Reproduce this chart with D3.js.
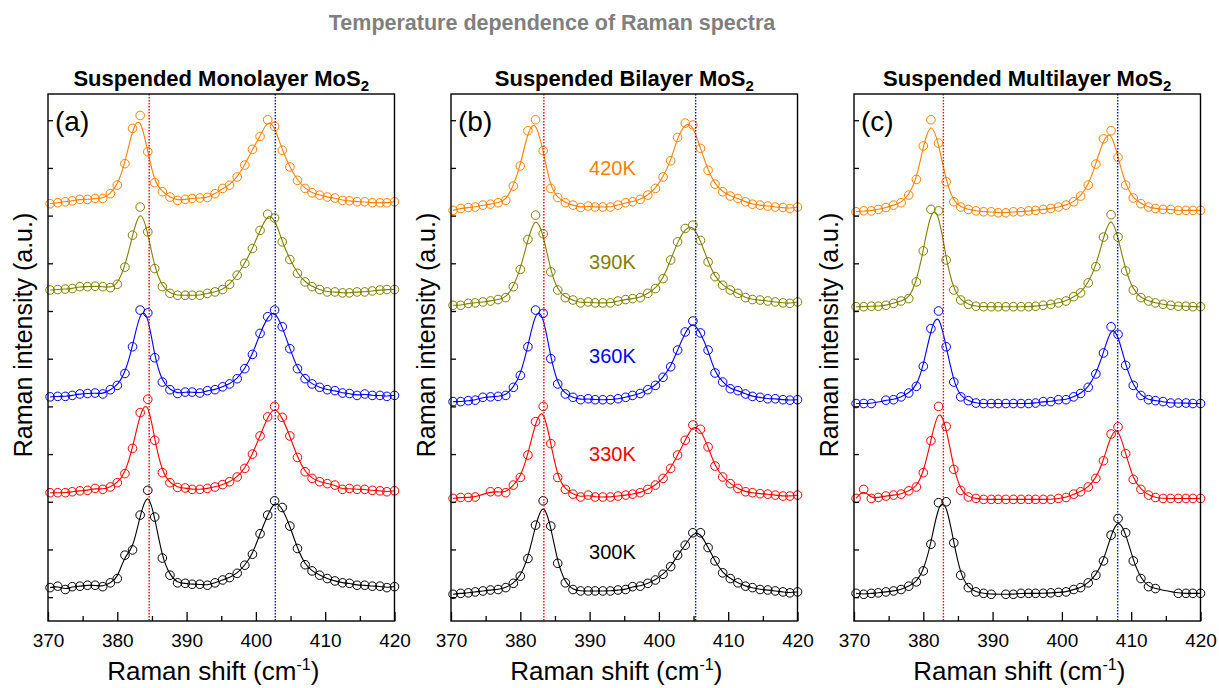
<!DOCTYPE html>
<html><head><meta charset="utf-8">
<script src="https://cdn.jsdelivr.net/npm/d3@7"></script>
<style>
body{margin:0;background:#fff}
svg{display:block}
text{font-family:"Liberation Sans",Arial,Helvetica,sans-serif}
</style>
</head><body>
<svg id="chart" width="1219" height="688"></svg>
<script>
// ---------- data ----------
const ramanShift = [370.3, 371.4, 372.5, 373.5, 374.6, 375.7, 376.8, 377.9, 379.0, 380.0, 381.1, 382.2, 383.3, 384.4, 385.4, 386.5, 387.6, 388.7, 389.8, 390.8, 391.9, 393.0, 394.1, 395.2, 396.2, 397.3, 398.4, 399.5, 400.6, 401.7, 402.7, 403.8, 404.9, 406.0, 407.1, 408.1, 409.2, 410.3, 411.4, 412.5, 413.5, 414.6, 415.7, 416.8, 417.9, 418.9, 420.0];

const temperatures = ["420K", "390K", "360K", "330K", "300K"];
const tempColors = ["#ff8000", "#808000", "#0000ff", "#ff0000", "#000000"];

// (a) monolayer (offset intensities, a.u.)
const mono420 = [8.25, 8.27, 8.29, 8.31, 8.34, 8.34, 8.36, 8.36, 8.46, 8.64, 9.09, 9.83, 10.10, 9.34, 8.69, 8.50, 8.39, 8.32, 8.34, 8.36, 8.37, 8.38, 8.46, 8.57, 8.64, 8.81, 9.06, 9.39, 9.66, 10.01, 9.87, 9.37, 9.02, 8.74, 8.57, 8.48, 8.43, 8.39, 8.37, 8.32, 8.31, 8.29, 8.29, 8.27, 8.27, 8.27, 8.29];
const mono390 = [6.44, 6.45, 6.46, 6.47, 6.51, 6.51, 6.52, 6.51, 6.49, 6.56, 6.92, 7.59, 8.18, 7.66, 6.89, 6.51, 6.37, 6.33, 6.33, 6.33, 6.33, 6.37, 6.40, 6.45, 6.56, 6.75, 7.00, 7.31, 7.69, 8.03, 7.95, 7.45, 7.08, 6.79, 6.61, 6.51, 6.45, 6.40, 6.40, 6.38, 6.38, 6.40, 6.40, 6.42, 6.44, 6.45, 6.45];
const mono360 = [4.20, 4.21, 4.21, 4.23, 4.26, 4.27, 4.28, 4.26, 4.35, 4.44, 4.69, 5.25, 6.02, 5.96, 5.02, 4.51, 4.35, 4.27, 4.30, 4.30, 4.28, 4.33, 4.35, 4.41, 4.47, 4.58, 4.79, 5.09, 5.53, 5.88, 6.02, 5.67, 5.21, 4.79, 4.58, 4.47, 4.40, 4.35, 4.33, 4.28, 4.27, 4.23, 4.26, 4.23, 4.23, 4.21, 4.23];
const mono330 = [2.19, 2.19, 2.19, 2.21, 2.23, 2.24, 2.28, 2.26, 2.31, 2.40, 2.59, 3.12, 3.87, 4.15, 3.29, 2.61, 2.40, 2.30, 2.29, 2.26, 2.26, 2.28, 2.31, 2.36, 2.42, 2.52, 2.70, 3.00, 3.38, 3.78, 4.00, 3.77, 3.38, 2.93, 2.63, 2.49, 2.42, 2.38, 2.35, 2.26, 2.28, 2.26, 2.26, 2.24, 2.23, 2.21, 2.23];
const mono300 = [0.20, 0.23, 0.16, 0.22, 0.23, 0.25, 0.25, 0.22, 0.30, 0.39, 0.88, 0.99, 1.72, 2.24, 1.68, 0.82, 0.46, 0.30, 0.29, 0.27, 0.27, 0.25, 0.30, 0.36, 0.41, 0.50, 0.67, 0.90, 1.33, 1.72, 2.02, 1.88, 1.49, 1.02, 0.68, 0.55, 0.46, 0.39, 0.34, 0.30, 0.29, 0.25, 0.25, 0.23, 0.23, 0.20, 0.22];

// (b) bilayer
const bi420 = [8.11, 8.15, 8.17, 8.18, 8.22, 8.24, 8.27, 8.32, 8.62, 9.04, 9.78, 10.01, 9.36, 8.57, 8.38, 8.27, 8.22, 8.17, 8.20, 8.18, 8.18, 8.18, 8.22, 8.27, 8.29, 8.34, 8.43, 8.57, 8.81, 9.15, 9.64, 9.94, 9.90, 9.41, 8.95, 8.66, 8.50, 8.41, 8.36, 8.29, 8.24, 8.22, 8.20, 8.18, 8.17, 8.15, 8.18];
const bi390 = [6.12, 6.12, 6.16, 6.17, 6.19, 6.21, 6.24, 6.28, 6.51, 6.87, 7.50, 8.01, 7.62, 6.82, 6.44, 6.28, 6.23, 6.17, 6.19, 6.17, 6.17, 6.17, 6.21, 6.24, 6.26, 6.28, 6.37, 6.47, 6.68, 7.07, 7.45, 7.73, 7.80, 7.48, 7.03, 6.72, 6.54, 6.44, 6.37, 6.28, 6.24, 6.23, 6.21, 6.19, 6.17, 6.16, 6.19];
const bi360 = [4.10, 4.10, 4.12, 4.13, 4.19, 4.20, 4.21, 4.23, 4.40, 4.65, 5.25, 6.02, 5.95, 5.00, 4.47, 4.26, 4.19, 4.14, 4.16, 4.14, 4.14, 4.14, 4.16, 4.19, 4.23, 4.27, 4.35, 4.44, 4.61, 4.83, 5.18, 5.56, 5.79, 5.54, 5.18, 4.70, 4.51, 4.37, 4.33, 4.26, 4.21, 4.19, 4.16, 4.16, 4.14, 4.13, 4.14];
const bi330 = [2.07, 2.09, 2.09, 2.10, null, 2.21, 2.21, 2.19, 2.35, 2.51, 2.98, 3.68, 4.00, 3.22, 2.51, 2.26, 2.16, 2.10, 2.14, 2.10, 2.10, 2.10, 2.12, 2.14, 2.16, 2.19, 2.26, 2.35, 2.49, 2.70, 2.98, 3.29, 3.61, 3.52, 3.15, 2.75, 2.52, 2.38, 2.28, 2.21, 2.19, 2.17, 2.16, 2.14, 2.12, 2.12, 2.14];
const bi300 = [0.06, 0.08, 0.09, 0.11, 0.13, 0.15, 0.16, 0.20, 0.29, 0.44, 0.81, 1.51, 2.02, 1.49, 0.71, 0.30, 0.16, 0.13, 0.13, 0.13, 0.13, 0.13, 0.15, 0.16, 0.22, 0.23, 0.29, 0.36, 0.48, 0.64, 0.88, 1.09, 1.35, 1.35, 1.04, 0.76, 0.51, 0.39, 0.30, 0.23, 0.20, 0.16, 0.15, 0.13, 0.11, 0.09, 0.11];

// (c) multilayer
const multi420 = [8.08, 8.10, 8.10, 8.13, 8.17, 8.22, 8.27, 8.43, 8.76, 9.46, 10.01, 9.52, 8.71, 8.29, 8.18, 8.13, 8.10, 8.08, 8.08, 8.06, 8.06, 8.08, 8.08, 8.10, 8.11, 8.13, 8.15, 8.18, 8.22, 8.29, 8.41, 8.64, 9.08, 9.61, 9.78, 9.22, 8.64, 8.37, 8.25, 8.18, 8.15, 8.13, 8.13, 8.11, 8.11, 8.11, 8.11];
const multi390 = [6.09, 6.09, 6.10, 6.10, 6.12, 6.16, 6.21, 6.26, 6.61, 7.26, 8.13, 8.10, 7.07, 6.44, 6.23, 6.14, 6.10, 6.09, 6.09, 6.09, 6.09, 6.09, 6.09, 6.09, 6.10, 6.12, 6.14, 6.17, 6.21, 6.30, 6.38, 6.59, 6.93, 7.55, 8.02, 7.55, 6.84, 6.44, 6.28, 6.21, 6.17, 6.14, 6.12, 6.10, 6.10, 6.09, 6.09];
const multi360 = [4.06, 4.06, 4.06, null, 4.13, 4.14, 4.20, 4.28, 4.42, 4.84, 5.63, 6.00, 5.25, 4.51, 4.20, 4.12, 4.07, 4.06, 4.06, 4.06, 4.06, 4.06, 4.06, 4.06, 4.07, 4.10, 4.10, 4.14, 4.14, 4.20, 4.27, 4.40, 4.68, 5.12, 5.67, 5.51, 4.86, 4.44, 4.23, 4.14, 4.12, 4.10, 4.07, 4.07, 4.07, 4.06, 4.06];
const multi330 = [2.07, 2.26, 2.07, 2.09, 2.12, 2.14, 2.16, 2.23, 2.31, 2.61, 3.28, 4.00, 3.58, 2.68, 2.24, 2.10, 2.07, 2.05, 2.05, 2.05, 2.05, 2.05, 2.05, 2.05, 2.05, 2.05, 2.05, 2.07, 2.09, 2.16, 2.21, 2.31, 2.49, 2.86, 3.42, 3.57, 3.01, 2.47, 2.26, 2.14, 2.09, 2.07, 2.07, 2.07, 2.07, 2.07, 2.07];
const multi300 = [0.08, 0.06, 0.08, 0.09, 0.11, 0.13, 0.16, 0.23, 0.32, 0.55, 1.11, 1.98, 2.00, 1.14, 0.46, 0.20, 0.11, 0.08, 0.06, null, 0.06, 0.06, 0.08, 0.08, 0.08, 0.08, 0.09, 0.10, 0.11, 0.16, 0.20, 0.30, 0.46, 0.76, 1.30, 1.65, 1.35, 0.76, 0.39, 0.22, 0.18, null, null, 0.08, 0.08, 0.08, 0.08];

const panelNames = ["Suspended Monolayer MoS", "Suspended Bilayer MoS", "Suspended Multilayer MoS"];
const panelLetters = ["(a)", "(b)", "(c)"];
const e2gPeak = [384.6, 383.4, 382.9];   // red dotted reference line
const a1gPeak = [402.8, 405.3, 408.05];  // blue dotted reference line
const tempLabelShift = 393.3;            // label position in panel (b)
const tempLabelLevel = [8.85, 6.89, 4.90, 2.85, 0.79];

const xMajorTicks = [370, 380, 390, 400, 410, 420];
const xMinorTicks = [375, 385, 395, 405, 415];
const yTicks = [0, 1, 2, 3, 4, 5, 6, 7, 8, 9, 10];

const panelSeries = [
  [mono420, mono390, mono360, mono330, mono300],
  [bi420, bi390, bi360, bi330, bi300],
  [multi420, multi390, multi360, multi330, multi300]
];

// ---------- drawing ----------
const svg = d3.select("#chart");
const plotTop = 94, plotBottom = 621;
const lefts = [48, 451, 854];
const pw = 346.5;

svg.append("text").attr("x", 552).attr("y", 30).attr("text-anchor", "middle")
  .attr("font-size", 21.5).attr("font-weight", "bold").attr("fill", "#7f7f7f")
  .text("Temperature dependence of Raman spectra");

const yScale = d3.scaleLinear().domain([-0.5, 10.55]).range([plotBottom, plotTop]);

panelSeries.forEach((series, p) => {
  const L = lefts[p];
  const xScale = d3.scaleLinear().domain([370, 420]).range([L, L + pw]);
  const g = svg.append("g");
  const cx = L + pw / 2;

  // panel title
  const t = g.append("text").attr("x", cx).attr("y", 86).attr("text-anchor", "middle")
    .attr("font-size", 22).attr("font-weight", "bold").attr("fill", "#000");
  t.append("tspan").text(panelNames[p]);
  t.append("tspan").attr("font-size", 15).attr("dy", 5).text("2");

  // series
  series.forEach((vals, k) => {
    const pts = ramanShift.map((s, i) => [s, vals[i]]).filter(d => d[1] != null);
    g.append("path").datum(pts)
      .attr("d", d3.line().x(d => xScale(d[0])).y(d => yScale(d[1])).curve(d3.curveBasis))
      .attr("fill", "none").attr("stroke", tempColors[k]).attr("stroke-width", 1.1);
    g.selectAll(null).data(pts).enter().append("circle")
      .attr("cx", d => xScale(d[0])).attr("cy", d => yScale(d[1])).attr("r", 4.3)
      .attr("fill", "none").attr("stroke", tempColors[k]).attr("stroke-width", 1);
  });

  // dotted reference lines
  [[e2gPeak[p], "#ff0000"], [a1gPeak[p], "#0000ff"]].forEach(([v, c]) => {
    g.append("line").attr("x1", xScale(v)).attr("x2", xScale(v))
      .attr("y1", plotTop).attr("y2", plotBottom)
      .attr("stroke", c).attr("stroke-width", 1.4).attr("stroke-dasharray", "1.5,1.5");
  });

  // ticks
  const xa = d3.axisBottom(xScale).tickValues(xMajorTicks).tickSize(-9).tickPadding(13).tickFormat(d3.format("d"));
  const xg = g.append("g").attr("transform", `translate(0,${plotBottom})`).call(xa);
  xg.select(".domain").remove();
  xg.selectAll("line").attr("stroke", "#000").attr("stroke-width", 1.3);
  xg.selectAll("text").attr("font-size", 19).attr("fill", "#000")
    .attr("font-family", '"Liberation Sans",Arial,sans-serif');
  const xm = d3.axisBottom(xScale).tickValues(xMinorTicks).tickSize(-5).tickFormat("");
  const xmg = g.append("g").attr("transform", `translate(0,${plotBottom})`).call(xm);
  xmg.select(".domain").remove();
  xmg.selectAll("line").attr("stroke", "#000").attr("stroke-width", 1.3);

  const ya = d3.axisLeft(yScale).tickValues(yTicks).tickSize(-5).tickFormat("");
  const yg = g.append("g").attr("transform", `translate(${L},0)`).call(ya);
  yg.select(".domain").remove();
  yg.selectAll("line").attr("stroke", "#000").attr("stroke-width", 1.3);

  // frame
  g.append("rect").attr("x", L).attr("y", plotTop).attr("width", pw).attr("height", plotBottom - plotTop)
    .attr("fill", "none").attr("stroke", "#000").attr("stroke-width", 1.4);

  // panel letter
  g.append("text").attr("x", L + 7).attr("y", 131).attr("font-size", 28).attr("fill", "#000")
    .text(panelLetters[p]);

  // axis titles
  const xt = g.append("text").attr("x", cx - 8).attr("y", 680).attr("text-anchor", "middle")
    .attr("font-size", 26).attr("fill", "#000");
  xt.append("tspan").text("Raman shift (cm");
  xt.append("tspan").attr("font-size", 16).attr("dy", -10).text("-1");
  xt.append("tspan").attr("dy", 10).text(")");

  g.append("text").attr("transform", `translate(${L - 16},335) rotate(-90)`)
    .attr("text-anchor", "middle").attr("font-size", 25).attr("fill", "#000")
    .text("Raman intensity (a.u.)");

  // temperature labels (panel b only)
  if (p === 1) {
    temperatures.forEach((tl, k) => {
      g.append("text").attr("x", xScale(tempLabelShift)).attr("y", yScale(tempLabelLevel[k]))
        .attr("text-anchor", "middle").attr("font-size", 20).attr("fill", tempColors[k])
        .text(tl);
    });
  }
});
</script>
</body></html>
